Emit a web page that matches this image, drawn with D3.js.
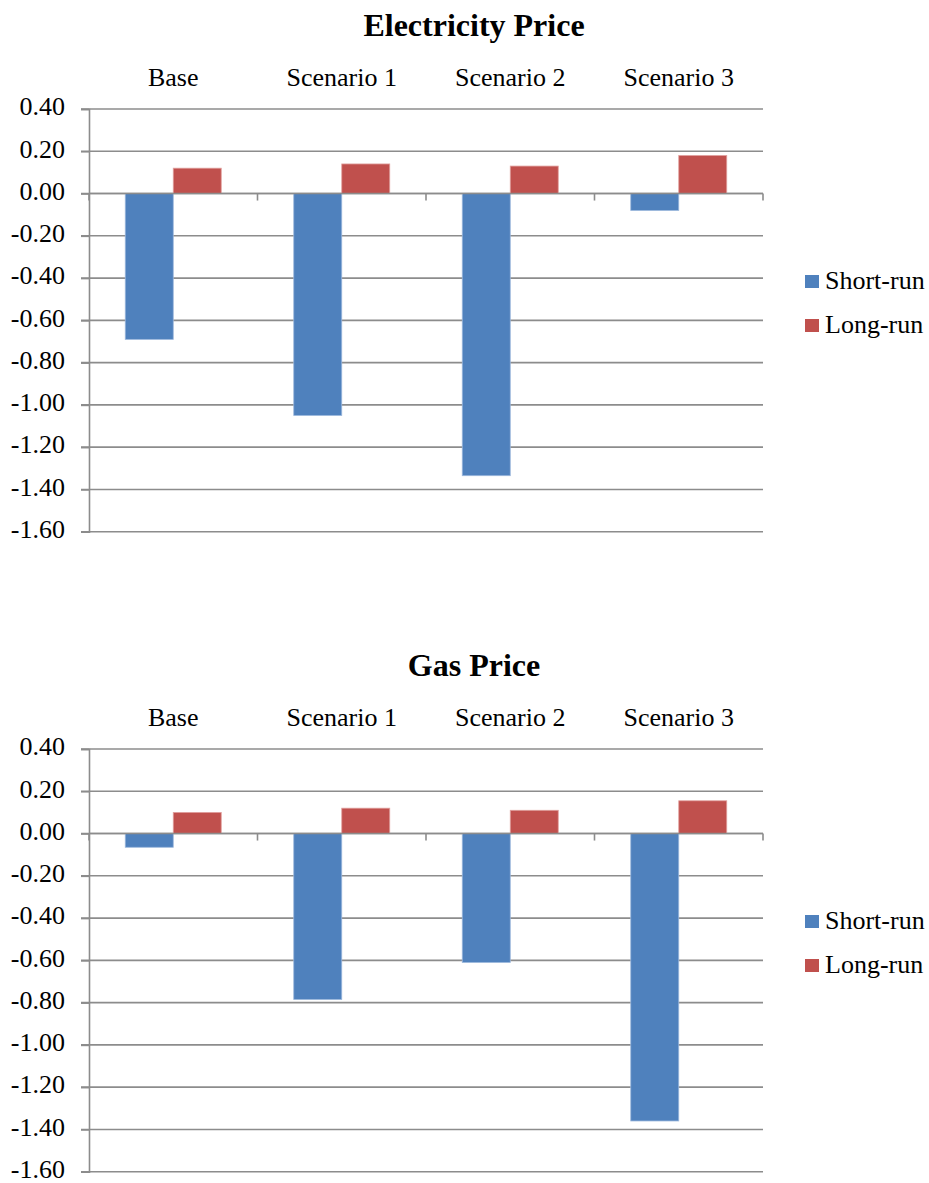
<!DOCTYPE html>
<html><head><meta charset="utf-8">
<script src="https://cdn.jsdelivr.net/npm/d3@7"></script>
<style>
body{margin:0;background:#fff;}
svg{display:block;}
svg text{font-family:"Liberation Serif","Times New Roman",serif !important;fill:#000;}
</style></head>
<body><svg id="c" width="929" height="1183"></svg>
<script>
const categories = ["Base","Scenario 1","Scenario 2","Scenario 3"];
const seriesNames = ["Short-run","Long-run"];
const seriesColors = ["#4F81BD","#C0504D"];
const elecShort = [-0.69,-1.05,-1.335,-0.08];
const elecLong = [0.12,0.14,0.13,0.18];
const gasShort = [-0.065,-0.785,-0.61,-1.36];
const gasLong = [0.10,0.12,0.11,0.155];
const yTicks = [0.4,0.2,0,-0.2,-0.4,-0.6,-0.8,-1.0,-1.2,-1.4,-1.6];

const charts = [
  {title:"Electricity Price", short:elecShort, long:elecLong, top:0},
  {title:"Gas Price", short:gasShort, long:gasLong, top:640}
];

const svg = d3.select("#c");
const left = 89, right = 763;

charts.forEach(ch => {
  const g = svg.append("g").attr("transform",`translate(0,${ch.top})`);
  const y = d3.scaleLinear().domain([-1.6,0.4]).range([531.7,109]);
  const x = d3.scaleBand().domain(categories).range([left,right]).paddingInner(0).paddingOuter(0);

  // title
  g.append("text").attr("x",474).attr("y",36).attr("text-anchor","middle")
    .attr("font-size",32).attr("font-weight","bold").text(ch.title);

  // gridlines
  g.append("g").selectAll("line").data(yTicks).join("line")
    .attr("x1",left-8).attr("x2",right).attr("y1",d=>y(d)).attr("y2",d=>y(d))
    .attr("stroke","#8c8c8c").attr("stroke-width",1.6);

  // y axis
  const ya = g.append("g").attr("transform",`translate(${left},0)`)
    .call(d3.axisLeft(y).tickValues(yTicks).tickFormat(d3.format(".2f")).tickSize(8).tickPadding(16));
  ya.select(".domain").attr("stroke","#8c8c8c").attr("stroke-width",1.6);
  ya.selectAll(".tick line").attr("stroke","#8c8c8c").attr("stroke-width",1.6);
  ya.selectAll(".tick text").attr("font-size",26).attr("dy","0.22em")
    .text(d => d3.format(".2f")(d).replace("\u2212","-"));

  // bars
  const bw = 48;
  categories.forEach((c,i) => {
    const cx = x(c) + x.bandwidth()/2;
    [ch.short[i], ch.long[i]].forEach((v,k) => {
      const x0 = k===0 ? cx-bw : cx;
      g.append("rect").attr("x",x0).attr("width",bw)
        .attr("y",Math.min(y(v),y(0))).attr("height",Math.abs(y(v)-y(0)))
        .attr("fill",seriesColors[k])
        .attr("stroke",k===0?"#9bb7dc":"#e0a09e").attr("stroke-width",0.8);
    });
  });

  // category axis at zero
  const xa = g.append("g").attr("transform",`translate(0,${y(0)})`);
  xa.append("line").attr("x1",left).attr("x2",right).attr("stroke","#8c8c8c").attr("stroke-width",1.6);
  const bounds = categories.map(c=>x(c)).concat([right]);
  xa.selectAll("line.t").data(bounds).join("line").attr("class","t")
    .attr("x1",d=>d).attr("x2",d=>d).attr("y1",0).attr("y2",7)
    .attr("stroke","#8c8c8c").attr("stroke-width",1.6);

  // category labels at top
  g.append("g").selectAll("text").data(categories).join("text")
    .attr("x",d=>x(d)+x.bandwidth()/2).attr("y",86).attr("text-anchor","middle")
    .attr("font-size",26).text(d=>d);

  // legend
  const lg = g.append("g");
  seriesNames.forEach((s,k) => {
    const ly = 275 + k*44;
    lg.append("rect").attr("x",805).attr("y",ly).attr("width",14).attr("height",13).attr("fill",seriesColors[k]);
    lg.append("text").attr("x",825).attr("y",ly+14).attr("font-size",26).text(s);
  });
});
</script></body></html>
